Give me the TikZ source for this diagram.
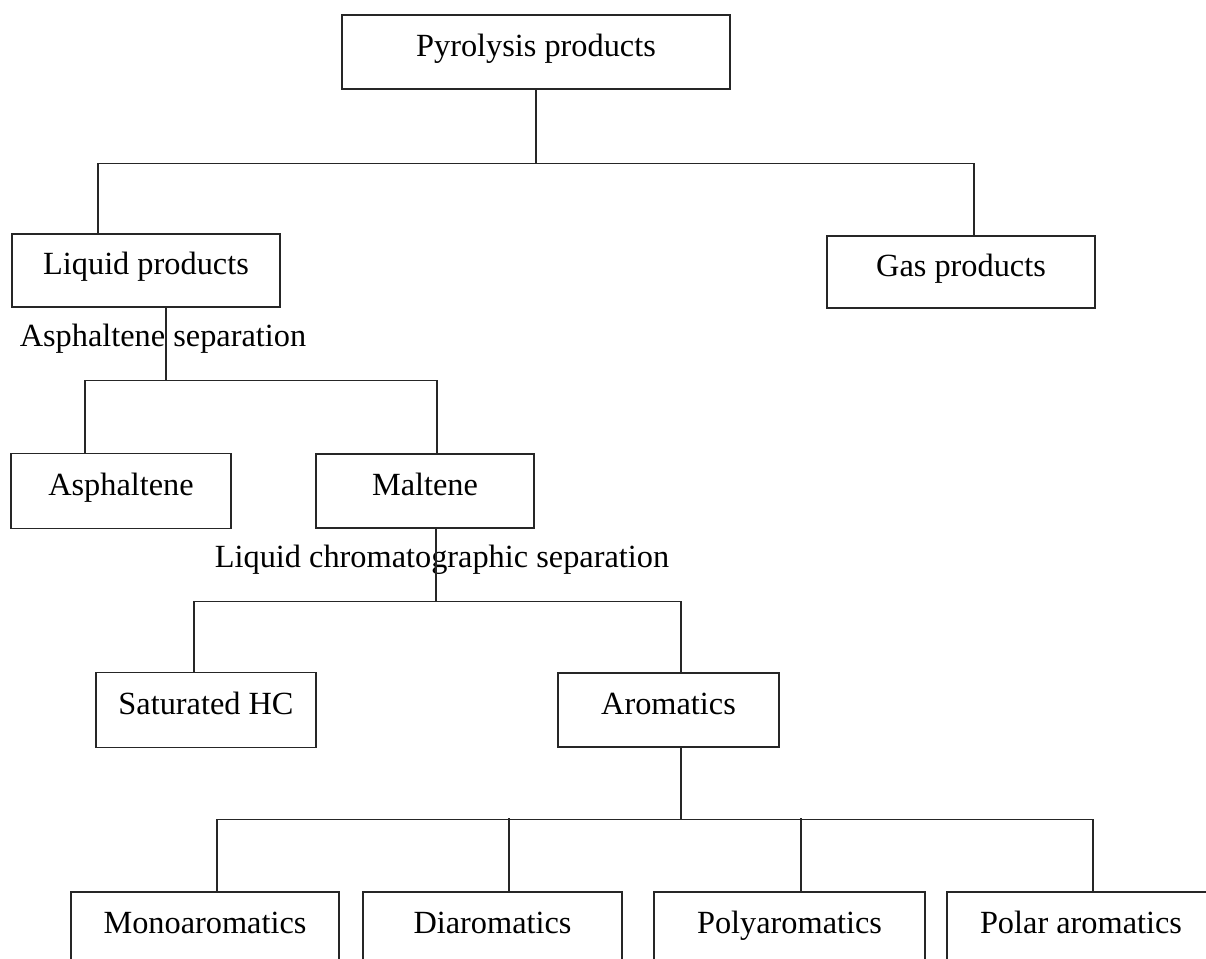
\documentclass[tikz,border=0pt]{standalone}
\usepackage{fontspec}
\setmainfont{Liberation Serif}
\usepackage{tikz}
\usetikzlibrary{calc}
\tikzset{
  link/.style={line width=0.8pt, color=black!85},
}

\begin{document}
\begin{tikzpicture}[x=0.02cm, y=-0.02cm,
  box/.style={draw=black!85, line width=0.8pt, minimum height=1.48cm, inner sep=0pt, text height=0.68em, text depth=0.22em, font=\fontsize{18.4}{22}\selectfont},
  steplbl/.style={font=\fontsize{18.4}{22}\selectfont, inner sep=0pt, text height=0.68em, text depth=0.22em}]
  \clip (0,0) rectangle (1206,958);
  % level 1
  \node[box, minimum width=7.76cm] (pyro) at (536,52) {Pyrolysis products};
  \node[box, minimum width=5.36cm, minimum height=1.46cm] (liquid) at (146,270.5) {Liquid products};
  \node[box, minimum width=5.36cm, minimum height=1.44cm] (gas) at (961,272) {Gas products};
  % asphaltene separation
  \node[steplbl] (asphsep) at (163,342) {Asphaltene separation};
  \node[box, minimum width=4.4cm, minimum height=1.5cm] (asph) at (121,491) {Asphaltene};
  \node[box, minimum width=4.36cm] (malt) at (425,491) {Maltene};
  % chromatographic separation
  \node[steplbl] (lcsep) at (442,563) {Liquid chromatographic separation};
  \node[box, minimum width=4.4cm, minimum height=1.5cm] (sat) at (206,710) {Saturated HC};
  \node[box, minimum width=4.42cm] (arom) at (668.5,710) {Aromatics};
  % aromatic fractions
  \node[box, minimum width=5.36cm] (mono) at (205,929) {Monoaromatics};
  \node[box, minimum width=5.18cm] (dia) at (492.5,929) {Diaromatics};
  \node[box, minimum width=5.42cm] (poly) at (789.5,929) {Polyaromatics};
  \node[box, minimum width=5.36cm] (polar) at (1081,929) {Polar aromatics};

  \draw[link] (pyro.south) -- ($(pyro.south)+(0,74)$) coordinate (j0);
  \draw[link] ($(liquid.north)+(-48,0)$) |- (j0) -| ($(gas.north)+(13,0)$);
  \draw[link] ($(liquid.south)+(20,0)$) -- ++(0,73) coordinate (j1);
  \draw[link] ($(asph.north)+(-36,0)$) |- (j1) -| ($(malt.north)+(12,0)$);
  \draw[link] ($(malt.south)+(11,0)$) -- ++(0,73) coordinate (j2);
  \draw[link] ($(sat.north)+(-12,0)$) |- (j2) -| ($(arom.north)+(12.5,0)$);
  \draw[link] ($(arom.south)+(12.5,0)$) -- ++(0,72) coordinate (j3);
  \draw[link] ($(mono.north)+(12,0)$) |- (j3) -| ($(polar.north)+(12,0)$);
  \draw[link] ($(dia.north)+(16.5,0)$) -- ++(0,-73);
  \draw[link] ($(poly.north)+(11.5,0)$) -- ++(0,-73);
\end{tikzpicture}
\end{document}
